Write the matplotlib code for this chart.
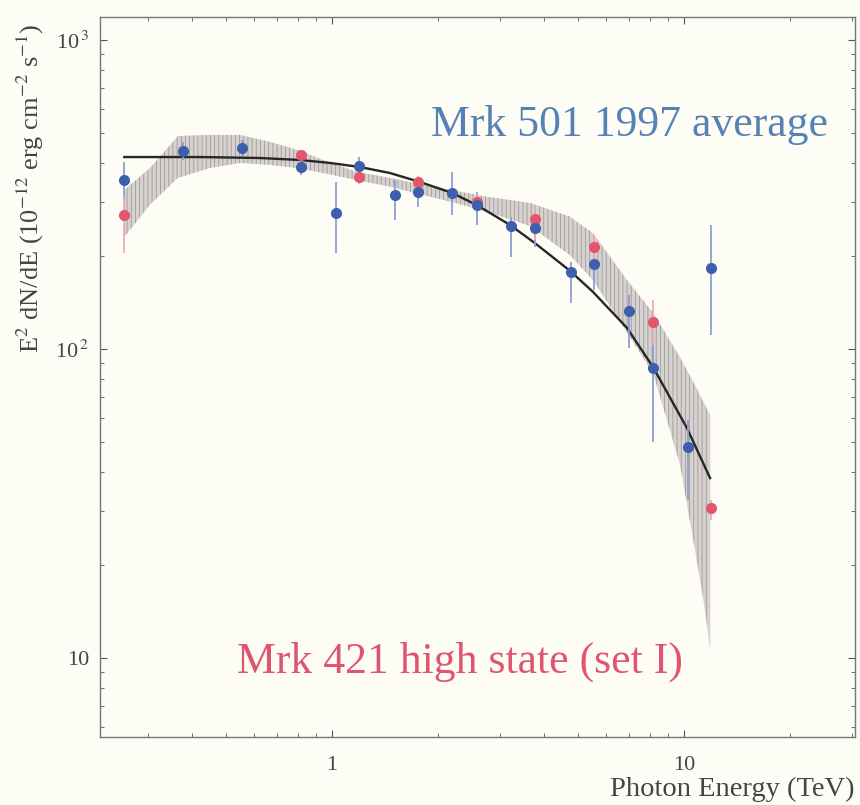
import matplotlib
matplotlib.use('Agg')
import matplotlib.pyplot as plt
import numpy as np

# Mrk 501 1997 average (blue points)
e_501 = [0.257, 0.377, 0.555, 0.816, 1.026, 1.193, 1.510, 1.755, 2.193,
         2.582, 3.225, 3.773, 4.775, 5.549, 6.98, 8.165, 10.26, 11.93]
f_501 = [352, 437, 447, 388, 276, 391, 315, 322, 320,
         292, 250, 246, 178, 188, 133, 87, 48, 183]
lo_501 = [303, 409, 421, 366, 204, 347, 261, 288, 272,
          252, 198, 214, 141, 155, 101, 50, 32.4, 111]
hi_501 = [403, 468, 475, 409, 347, 418, 352, 352, 374,
          322, 268, 282, 191, 209, 150, 115, 58.9, 252]

# Mrk 421 high state, set I (red points)
e_421 = [0.257, 0.816, 1.193, 1.755, 2.582, 3.773, 5.549, 8.165, 11.93]
f_421 = [272, 425, 360, 347, 299, 264, 214, 122, 30.6]
lo_421 = [204, 409, 342, 327, 282, 225, 191, 103, 28.0]
hi_421 = [310, 441, 380, 363, 317, 292, 234, 144, 32.4]

# shaded band
e_band = [0.257, 0.304, 0.365, 0.450, 0.548, 0.667, 0.796, 0.943, 1.178, 1.462,
          1.814, 2.236, 2.756, 3.652, 4.745, 5.513, 6.887, 8.165, 9.74, 10.74,
          11.47, 11.86]
band_hi = [327, 385, 489, 493, 493, 468, 441, 409, 374, 358,
           340, 325, 311, 297, 268, 237, 167, 131, 94, 76.5,
           65.9, 61.2]
band_lo = [230, 293, 358, 385, 400, 394, 385, 371, 352, 335,
           315, 297, 278, 250, 201, 167, 113, 83.6, 42.2, 22.4,
           14.3, 10.6]

# fitted curve
e_fit = [0.257, 0.422, 0.624, 0.811, 0.987, 1.201, 1.462, 1.778, 2.193,
         2.582, 3.204, 3.773, 4.745, 5.513, 6.887, 8.165, 10.19, 11.86]
f_fit = [418, 418, 415, 409, 400, 388, 371, 347, 320,
         292, 252, 220, 179, 153, 117, 87.4, 55.5, 38.2]

plt.rcParams['font.family'] = ['Liberation Serif', 'DejaVu Serif']
plt.rcParams['mathtext.fontset'] = 'stix'
plt.rcParams['hatch.linewidth'] = 0.6

bg = '#fdfdf6'
fig = plt.figure(figsize=(8.6, 8.05), dpi=100, facecolor=bg)
ax = fig.add_axes([0.1163, 0.0845, 0.8779, 0.8944], facecolor=bg)
ax.set_xscale('log')
ax.set_yscale('log')

ax.fill_between(e_band, band_lo, band_hi, facecolor='#d6d2cf',
                edgecolor='#a09a98', hatch='||||', linewidth=0, zorder=1)
ax.plot(e_fit, f_fit, color='#262626', lw=1.7, zorder=2)

# error bars
f = np.array(f_501, float)
ax.errorbar(e_501, f, yerr=[f - np.array(lo_501), np.array(hi_501) - f],
            fmt='none', ecolor='#8c9fd2', elinewidth=1.3, capsize=0, zorder=3)
f = np.array(f_421, float)
ax.errorbar(e_421, f, yerr=[f - np.array(lo_421), np.array(hi_421) - f],
            fmt='none', ecolor='#f2a7b6', elinewidth=1.3, capsize=0, zorder=3)

ax.plot(e_421, f_421, 'o', color='#e2566e', ms=8, mew=0, zorder=4)
ax.plot(e_501, f_501, 'o', color='#3e5fae', ms=8, mew=0, zorder=5)

ax.set_xlim(0.2193, 30.6)
ax.set_ylim(5.55, 1187)

ax.set_xticks([1, 10])
ax.set_xticklabels(['1', '10'])
ax.set_yticks([10, 100, 1000])
ax.set_yticklabels(['10', r'10$^{\,2}$', r'10$^{\,3}$'])
ax.tick_params(which='both', direction='in', top=True, right=True,
               colors='#555555', labelcolor='#444444', labelsize=16)
ax.tick_params(which='major', length=5, width=0.8)
ax.tick_params(which='minor', length=3, width=0.6)
ax.tick_params(axis='x', pad=14)
ax.tick_params(axis='y', pad=8)
for s in ax.spines.values():
    s.set_color('#777777')
    s.set_linewidth(1.0)

ax.set_ylabel(r'E$^2$ dN/dE (10$^{-12}$ erg cm$^{-2}$ s$^{-1}$)',
              fontsize=19, color='#444444')
ax.yaxis.set_label_coords(-0.072, 0.762)
fig.text(0.994, 0.004, 'Photon Energy (TeV)', ha='right', va='bottom',
         fontsize=20.5, color='#444444')

ax.text(0.964, 0.85, 'Mrk 501 1997 average', transform=ax.transAxes,
        ha='right', va='center', fontsize=31.5, color='#5582b4')
ax.text(0.181, 0.105, 'Mrk 421 high state (set I)', transform=ax.transAxes,
        ha='left', va='center', fontsize=31.5, color='#e0556e')

fig.savefig('out.png', dpi=100, facecolor=bg)
